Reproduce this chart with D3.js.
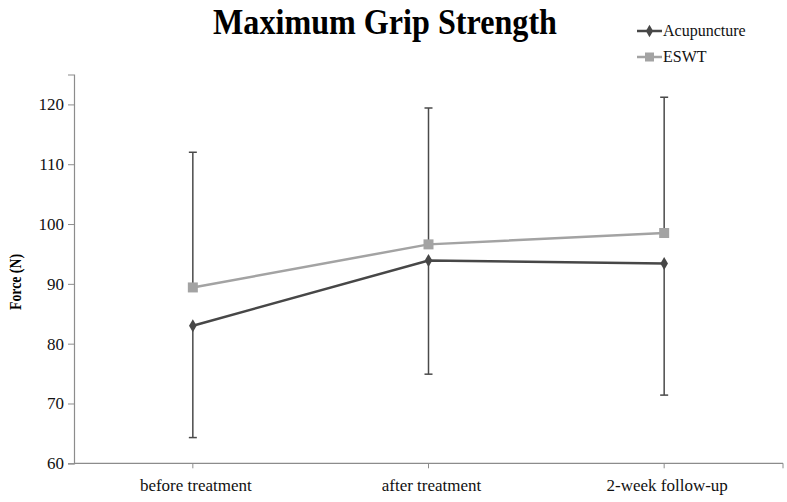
<!DOCTYPE html>
<html lang="en">
<head>
<meta charset="UTF-8">
<title>Maximum Grip Strength</title>
<script src="https://cdn.jsdelivr.net/npm/d3@7"></script>
<style>
  body { margin: 0; background: #fff; }
  text { font-family: "Liberation Serif", "Times New Roman", serif; }
</style>
</head>
<body>
<div id="chart"></div>
<script>
// chart data
var categories = ["before treatment", "after treatment", "2-week follow-up"];
var acupuncture = [83.0, 93.9, 93.4];
var acupunctureLow = [64.3, 74.9, 71.4];   // minus error bar ends
var eswt = [89.4, 96.6, 98.5];
var eswtHigh = [112.0, 119.4, 121.2];       // plus error bar ends
var yTicks = [60, 70, 80, 90, 100, 110, 120];

var width = 787, height = 502;

var svg = d3.select("#chart").append("svg")
    .attr("width", width)
    .attr("height", height);

var x = d3.scaleBand().domain(categories).range([75, 782]).padding(0);
var y = d3.scaleLinear().domain([60, 125]).range([463.3, 74.5]);

function cx(d) { return x(d) + x.bandwidth() / 2; }

// title (condensed like the original)
svg.append("text")
    .attr("x", 385).attr("y", 34)
    .attr("text-anchor", "middle")
    .attr("textLength", 344).attr("lengthAdjust", "spacingAndGlyphs")
    .style("font-size", "35px").style("font-weight", "bold")
    .text("Maximum Grip Strength");

// y axis
var yAxis = d3.axisLeft(y).tickValues(yTicks).tickSize(6).tickPadding(4);
var gy = svg.append("g").attr("transform", "translate(74,0)").call(yAxis);
gy.select(".domain").attr("stroke", "#8c8c8c").attr("stroke-width", 1.2);
gy.selectAll(".tick line").attr("stroke", "#8c8c8c");
gy.selectAll(".tick text").style("font-size", "17px").attr("fill", "#111");

// x axis with ticks at the category centres plus the right end
var gx = svg.append("g").attr("transform", "translate(0,463.3)");
gx.append("line").attr("x1", 74).attr("x2", 783).attr("stroke", "#8c8c8c").attr("stroke-width", 1.2);
gx.selectAll(".xt").data(categories.concat(["end"])).enter().append("line")
    .attr("x1", function(d) { return d === "end" ? 783 : cx(d); })
    .attr("x2", function(d) { return d === "end" ? 783 : cx(d); })
    .attr("y1", 0).attr("y2", 5)
    .attr("stroke", "#8c8c8c");
gx.selectAll(".xl").data(categories).enter().append("text")
    .attr("x", function(d) { return cx(d) + 3; })
    .attr("y", 28)
    .attr("text-anchor", "middle")
    .style("font-size", "17px").attr("fill", "#111")
    .text(function(d) { return d; });

// y axis title
svg.append("text")
    .attr("transform", "translate(21,282) rotate(-90)")
    .attr("text-anchor", "middle")
    .attr("textLength", 56).attr("lengthAdjust", "spacingAndGlyphs")
    .style("font-size", "16px").style("font-weight", "bold")
    .text("Force (N)");

// error bars
function errorBars(vals, ends) {
    var g = svg.append("g");
    categories.forEach(function(c, i) {
        var px = cx(c);
        g.append("line").attr("x1", px).attr("x2", px)
            .attr("y1", y(vals[i])).attr("y2", y(ends[i]))
            .attr("stroke", "#4a4a4a").attr("stroke-width", 1.5);
        g.append("line").attr("x1", px - 4).attr("x2", px + 4)
            .attr("y1", y(ends[i])).attr("y2", y(ends[i]))
            .attr("stroke", "#4a4a4a").attr("stroke-width", 1.5);
    });
}
errorBars(eswt, eswtHigh);
errorBars(acupuncture, acupunctureLow);

var line = d3.line()
    .x(function(d, i) { return cx(categories[i]); })
    .y(function(d) { return y(d); });

// ESWT series
svg.append("path").datum(eswt)
    .attr("d", line).attr("fill", "none")
    .attr("stroke", "#a3a3a3").attr("stroke-width", 2.5);
svg.selectAll(".sq").data(eswt).enter().append("rect")
    .attr("x", function(d, i) { return cx(categories[i]) - 5; })
    .attr("y", function(d) { return y(d) - 5; })
    .attr("width", 10).attr("height", 10)
    .attr("fill", "#a3a3a3");

// Acupuncture series
svg.append("path").datum(acupuncture)
    .attr("d", line).attr("fill", "none")
    .attr("stroke", "#474747").attr("stroke-width", 2.5);
svg.selectAll(".dm").data(acupuncture).enter().append("path")
    .attr("d", d3.symbol(d3.symbolDiamond, 50))
    .attr("transform", function(d, i) { return "translate(" + cx(categories[i]) + "," + y(d) + ")"; })
    .attr("fill", "#474747");

// legend
var legend = [
    { name: "Acupuncture", color: "#474747", shape: "diamond", y: 31 },
    { name: "ESWT", color: "#a3a3a3", shape: "square", y: 57 }
];
var lg = svg.append("g");
legend.forEach(function(l) {
    lg.append("line").attr("x1", 637).attr("x2", 662)
        .attr("y1", l.y).attr("y2", l.y)
        .attr("stroke", l.color).attr("stroke-width", 2.5);
    if (l.shape === "diamond") {
        lg.append("path").attr("d", d3.symbol(d3.symbolDiamond, 45))
            .attr("transform", "translate(649.5," + l.y + ")").attr("fill", l.color);
    } else {
        lg.append("rect").attr("x", 645).attr("y", l.y - 4.5)
            .attr("width", 9).attr("height", 9).attr("fill", l.color);
    }
    lg.append("text").attr("x", 663).attr("y", l.y + 5)
        .style("font-size", "16px").attr("fill", "#111")
        .text(l.name);
});
</script>
</body>
</html>
